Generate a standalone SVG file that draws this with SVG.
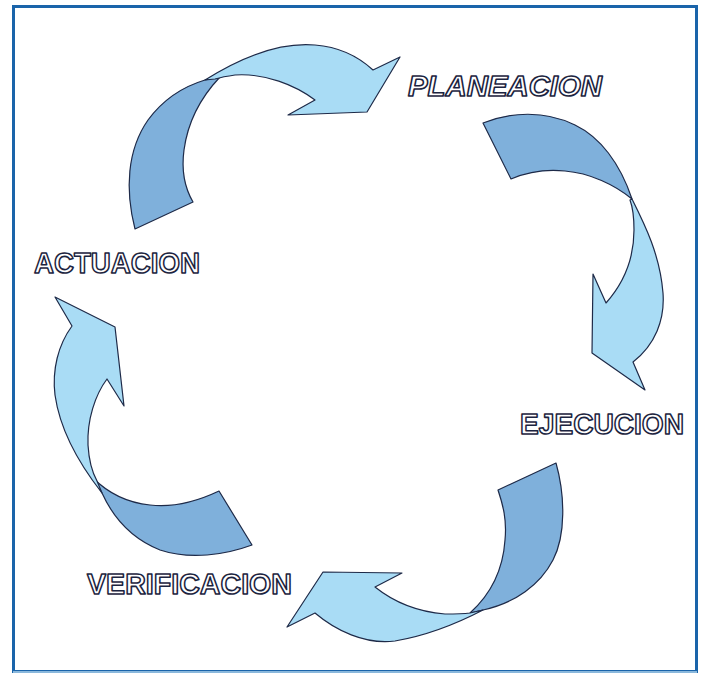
<svg xmlns="http://www.w3.org/2000/svg" width="702" height="675" viewBox="0 0 702 675">
<style>
.dark{fill:#7fb0db;stroke:#1e2a48;stroke-width:1.2;stroke-linejoin:round}
.light{fill:#a9dcf5;stroke:#1e2a48;stroke-width:1.2;stroke-linejoin:round}
.lbl{font-family:"Liberation Sans",Arial,sans-serif;font-weight:bold;font-size:30px;fill:#ffffff;stroke:#1c2440;stroke-width:1.6;stroke-linejoin:round}
</style>
<rect x="0" y="0" width="702" height="675" fill="#ffffff"/>
<rect x="13.5" y="6.5" width="683" height="665" fill="none" stroke="#1a64aa" stroke-width="3"/>
<line x1="13" y1="672" x2="697" y2="672" stroke="#8ab8dc" stroke-width="2"/>
<g id="connectors">
  <g id="arrow-actuacion-planeacion">
    <path class="dark" d="M135,229 C125,190 127,150 148,120 C165,97 185,86 205,80 L220,77 C203,95 188,120 184,150 C181,172 186,190 193,202 Z"/>
    <path class="light" d="M205,80 C240,58 280,42 315,45 C340,47 360,58 373,70 L400,57 L367,112 L288,115 L315,100 C295,85 265,73 235,75 C228,76 222,77 215,79 Z"/>
  </g>
  <g id="arrow-planeacion-ejecucion">
    <path class="dark" d="M483,123 C510,112 545,110 575,125 C600,137 620,163 632,199 C615,185 590,173 565,171 C545,169 525,173 511,179 Z"/>
    <path class="light" d="M632,199 C645,225 660,255 663,293 C665,320 655,345 633,362 L645,390 L592,353 L593,274 L606,303 C622,285 634,260 634,230 C634,218 633,208 630,200 Z"/>
  </g>
  <g id="arrow-ejecucion-verificacion">
    <path class="dark" d="M556,463 C565,495 566,535 553,560 C540,585 515,603 483,610 L470,613 C490,595 503,570 505,540 C507,520 503,505 498,490 Z"/>
    <path class="light" d="M483,610 C460,622 430,635 395,641 C365,645 335,630 315,613 L287,627 L323,572 L402,573 L375,587 C395,603 420,612 445,614 C455,614 462,614 470,613 Z"/>
  </g>
  <g id="arrow-verificacion-actuacion">
    <path class="dark" d="M102,493 C112,515 130,538 160,550 C190,560 225,555 252,545 L219,491 C200,500 175,508 150,505 C130,503 110,495 93,478 Z"/>
    <path class="light" d="M102,493 C80,465 60,430 55,395 C52,370 58,345 72,326 L55,297 L115,327 L124,406 L107,379 C95,395 87,420 88,445 C89,462 92,472 97,481 Z"/>
  </g>
</g>
<g id="node-planeacion"><text class="lbl" x="408" y="96" font-style="italic" textLength="194" lengthAdjust="spacingAndGlyphs">PLANEACION</text></g>
<g id="node-ejecucion"><text class="lbl" x="520" y="434" textLength="164" lengthAdjust="spacingAndGlyphs">EJECUCION</text></g>
<g id="node-verificacion"><text class="lbl" x="87" y="594" textLength="205" lengthAdjust="spacingAndGlyphs">VERIFICACION</text></g>
<g id="node-actuacion"><text class="lbl" x="34" y="273" textLength="166" lengthAdjust="spacingAndGlyphs">ACTUACION</text></g>
</svg>
